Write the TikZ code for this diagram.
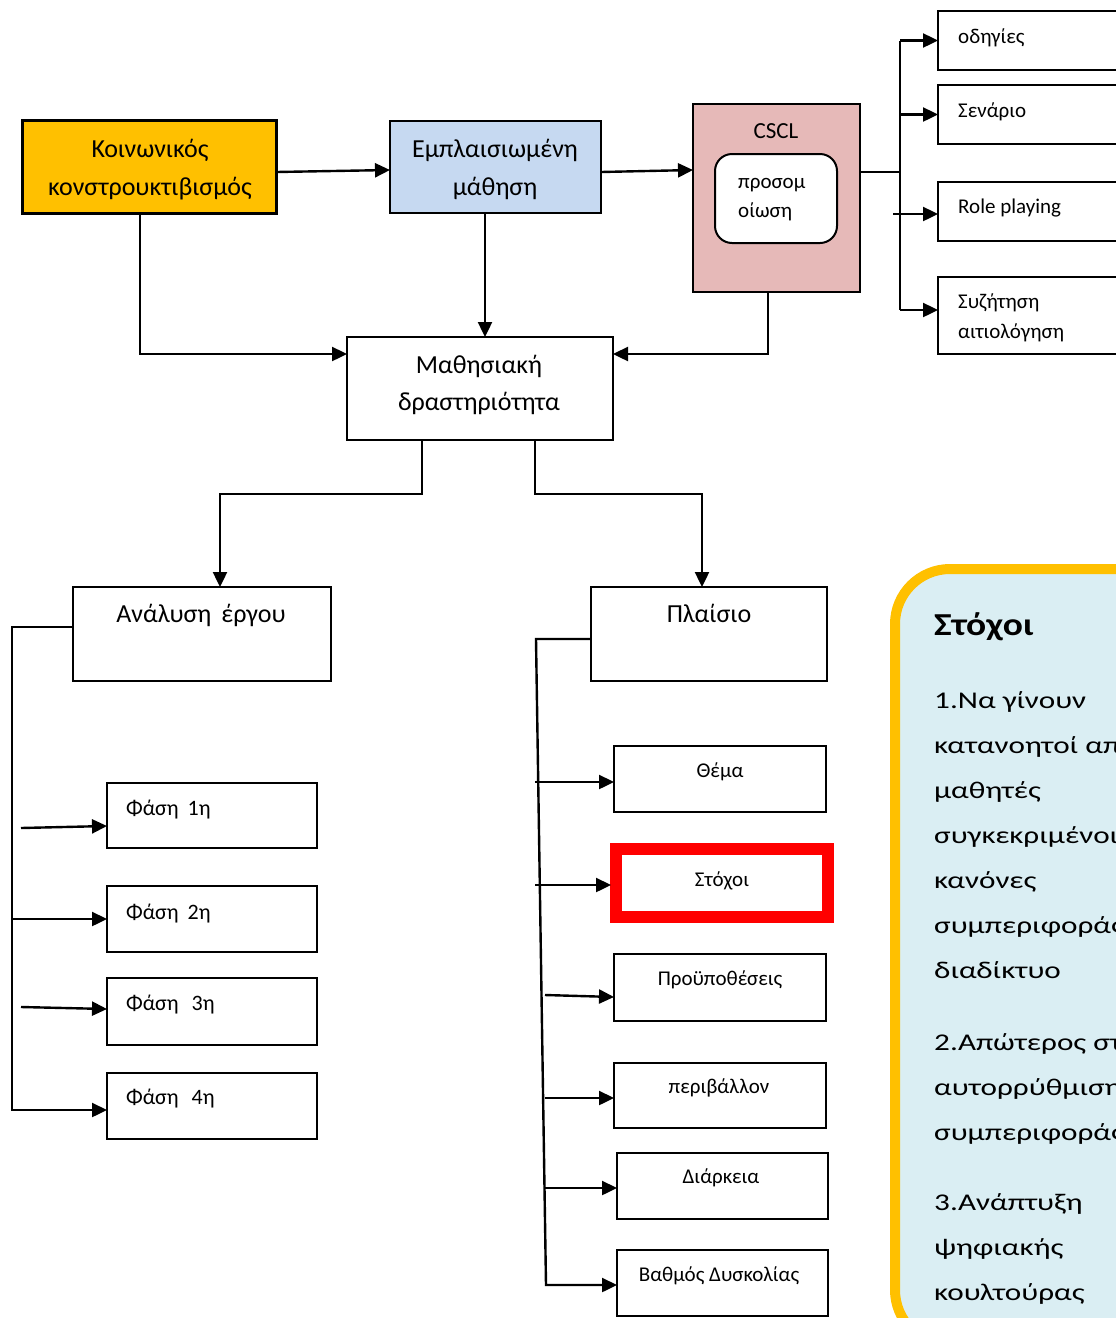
\documentclass[tikz,border=0pt]{standalone}
\usepackage{fontspec}
\setmainfont{Carlito}
\newfontfamily\panelfont[FakeStretch=1.3]{Carlito}
\newfontfamily\paneltitlefont[FakeStretch=1.17]{Carlito}
\usetikzlibrary{arrows.meta,calc}
\definecolor{orangefill}{HTML}{FFC000}
\definecolor{bluefill}{HTML}{C6D9F1}
\definecolor{pinkfill}{HTML}{E6B9B8}
\definecolor{panelfill}{HTML}{DAEEF3}
\definecolor{panelborder}{HTML}{FFC000}
\newcommand\setfs[1]{\fontsize{#1}{#1}\selectfont}
\begin{document}
\begin{tikzpicture}[x=1pt,y=-1pt,
  box/.style={draw=black, line width=2pt, inner sep=0pt, outer sep=0pt, fill=white},
  conn/.style={line width=2.4pt},
  arr/.style={conn, -{Triangle[length=15pt,width=14pt]}},
  lbl/.style={inner sep=0pt, anchor=base},
  lblw/.style={inner sep=0pt, anchor=base west},
  big/.style={font=\setfs{26}},
  mid/.style={font=\setfs{26}},
  sml/.style={font=\setfs{21}},
  phase/.style={font=\setfs{22}},
  body/.style={lblw, font=\panelfont\setfs{24}}]
\useasboundingbox (0,0) rectangle (1116,1318);
\clip (0,0) rectangle (1116,1318);
\fill[white] (0,0) rectangle (1116,1318);

% ---- top row ----
\node[box, fill=orangefill, line width=3pt, minimum width=254pt, minimum height=93pt] (koin) at (149.5,167) {};
\node[box, fill=bluefill, minimum width=211pt, minimum height=92pt] (emp) at (495.5,167) {};
\node[box, fill=pinkfill, minimum width=167pt, minimum height=188pt] (cscl) at (776.5,198) {};
\node[box, rounded corners=17pt, minimum width=122pt, minimum height=89pt] (sim) at (776,198.5) {};
\node[box, minimum width=266pt, minimum height=103pt] (mat) at (480,388.5) {};

\node[lbl, big] (koinA) at (150,157) {Κοινωνικός};
\node[lbl, big] (koinB) at (150,195) {κονστρουκτιβισμός};
\node[lbl, big] (empA) at (495,157) {Εμπλαισιωμένη};
\node[lbl, big] (empB) at (495,195) {μάθηση};
\node[lbl, big] (matA) at (479,373) {Μαθησιακή};
\node[lbl, big] (matB) at (479,410) {δραστηριότητα};
\node[lbl, font=\setfs{23}] (csclT) at (776,138) {CSCL};
\node[lblw, sml] (simA) at (738,188) {προσομ};
\node[lblw, sml] (simB) at (738,217) {οίωση};

% ---- CSCL techniques ----
\node[box, minimum width=202pt, minimum height=59pt] (od) at (1039,40.5) {};
\node[box, minimum width=202pt, minimum height=59pt] (se) at (1039,114.5) {};
\node[box, minimum width=202pt, minimum height=59pt] (rp) at (1039,211.5) {};
\node[box, minimum width=202pt, minimum height=77pt] (sy) at (1039,315.5) {};
\node[lblw, sml] (odT) at (958,43) {οδηγίες};
\node[lblw, sml] (seT) at (958,117) {Σενάριο};
\node[lblw, sml] (rpT) at (958,213) {Role playing};
\node[lblw, sml] (syA) at (958,308) {Συζήτηση};
\node[lblw, sml] (syB) at (958,338) {αιτιολόγηση};

% ---- second level ----
\node[box, minimum width=258pt, minimum height=94pt] (an) at (202,634) {};
\node[box, minimum width=236pt, minimum height=94pt] (pl) at (709,634) {};
\node[lbl, mid] (anT) at (201,622) {Ανάλυση\hspace{10pt}έργου};
\node[lbl, mid] (plT) at (709,622) {Πλαίσιο};

% ---- phases ----
\node[box, minimum width=210pt, minimum height=65pt] (f1) at (212,815.5) {};
\node[box, minimum width=210pt, minimum height=66pt] (f2) at (212,919) {};
\node[box, minimum width=210pt, minimum height=67pt] (f3) at (212,1011.5) {};
\node[box, minimum width=210pt, minimum height=66pt] (f4) at (212,1106) {};
\node[lblw, phase] (f1T) at (126,815) {Φάση\hspace{9pt}1η};
\node[lblw, phase] (f2T) at (126,919) {Φάση\hspace{9pt}2η};
\node[lblw, phase] (f3T) at (126,1010) {Φάση\hspace{13pt}3η};
\node[lblw, phase] (f4T) at (126,1104) {Φάση\hspace{13pt}4η};

% ---- framework items ----
\node[box, minimum width=212pt, minimum height=66pt] (th) at (720,779) {};
\node[box, draw=red, line width=12pt, minimum width=212pt, minimum height=68pt] (st) at (722,883) {};
\node[box, minimum width=212pt, minimum height=67pt] (pr) at (720,987.5) {};
\node[box, minimum width=212pt, minimum height=65pt] (pe) at (720,1095.5) {};
\node[box, minimum width=211pt, minimum height=66pt] (di) at (722.5,1186) {};
\node[box, minimum width=211pt, minimum height=66pt] (vb) at (722.5,1283) {};
\node[lbl, sml] (thT) at (720,777) {Θέμα};
\node[lbl, sml] (stT) at (722,886) {Στόχοι};
\node[lbl, sml] (prT) at (720,985) {Προϋποθέσεις};
\node[lbl, sml] (peT) at (719,1093) {περιβάλλον};
\node[lbl, sml] (diT) at (721,1183) {Διάρκεια};
\node[lbl, sml] (vbT) at (719,1281) {Βαθμός Δυσκολίας};

% ---- goals panel ----
\node[draw=panelborder, fill=panelfill, line width=10pt, rounded corners=55pt,
      minimum width=305pt, minimum height=776pt, inner sep=0pt] (panel) at (1047.5,957) {};
\node[lblw, font=\paneltitlefont\bfseries\setfs{32}] (goalT) at (934,635) {Στόχοι};
\node[body] (g1) at (934,708) {1.Να γίνουν};
\node[body] (g2) at (934,753) {κατανοητοί από};
\node[body] (g3) at (934,798) {μαθητές};
\node[body] (g4) at (934,843) {συγκεκριμένοι};
\node[body] (g5) at (934,888) {κανόνες};
\node[body] (g6) at (934,933) {συμπεριφοράς};
\node[body] (g7) at (934,978) {διαδίκτυο};
\node[body] (g8) at (934,1050) {2.Απώτερος στόχος};
\node[body] (g9) at (934,1095) {αυτορρύθμιση};
\node[body] (g10) at (934,1140) {συμπεριφοράς};
\node[body] (g11) at (934,1210) {3.Ανάπτυξη};
\node[body] (g12) at (934,1255) {ψηφιακής};
\node[body] (g13) at (934,1300) {κουλτούρας};

% ---- connectors: top ----
\draw[arr] ([yshift=-5pt]koin.east) -- ([yshift=-3pt]emp.west);
\draw[arr] ([yshift=-5pt]emp.east) -- ([yshift=28pt]cscl.west);
\draw[arr] ([xshift=-10.5pt]emp.south) -- ([xshift=5pt]mat.north);
\draw[arr] ([xshift=-9.5pt]koin.south) |- ([yshift=34.5pt]mat.west);
\draw[arr] ([xshift=-8.5pt]cscl.south) |- ([yshift=34.5pt]mat.east);

\coordinate (hub) at (900,172);
\draw[conn] ([yshift=26pt]cscl.east) -- (hub);
\draw[conn] (od.west -| hub) -- ($(sy.west -| hub)+(0,-5.5)$);
\draw[arr] (od.west -| hub) -- (od.west);
\draw[arr] (se.west -| hub) -- (se.west);
\draw[arr] ($(rp.west -| hub)+(-7,2.5)$) -- ($(rp.west)+(0,2.5)$);
\draw[arr] ($(sy.west -| hub)+(0,-5.5)$) -- ($(sy.west)+(0,-5.5)$);

% ---- connectors: activity to analysis / framework ----
\draw[arr] ([xshift=-58pt]mat.south) -- ++(0,54) -| ([xshift=18pt]an.north);
\draw[arr] ([xshift=55pt]mat.south) -- ++(0,54) -| ([xshift=-7pt]pl.north);

% ---- connectors: phases ----
\coordinate (lbend) at (12,1110);
\draw[arr] ([yshift=7pt]an.west) -| (lbend) -- ([yshift=-4pt]f4.west);
\draw[arr] (f2.west -| lbend) -- (f2.west);
\coordinate (f1s) at (21,828);
\draw[arr] (f1s) -- ([yshift=-10.5pt]f1.west);
\coordinate (f3s) at (21,1007);
\draw[arr] (f3s) -- ([yshift=2.5pt]f3.west);

% ---- connectors: framework items ----
\coordinate (rtop) at (536,639);
\coordinate (rbot) at (546,1285);
\draw[arr] ([yshift=-5pt]pl.west) -- (rtop) -- (rbot) -- ([yshift=-2pt]vb.west);
\coordinate (thS) at (535,782);
\draw[arr] (thS) -- ([yshift=-3pt]th.west);
\coordinate (stS) at (535,885);
\draw[arr] (stS) -- ([xshift=-5pt,yshift=-2pt]st.west);
\coordinate (prS) at (545,995);
\draw[arr] (prS) -- ([yshift=-9.5pt]pr.west);
\coordinate (peS) at (545,1098);
\draw[arr] (peS) -- ([yshift=-2.5pt]pe.west);
\coordinate (diS) at (545,1188);
\draw[arr] (diS) -- ([yshift=-2pt]di.west);
\end{tikzpicture}
\end{document}
